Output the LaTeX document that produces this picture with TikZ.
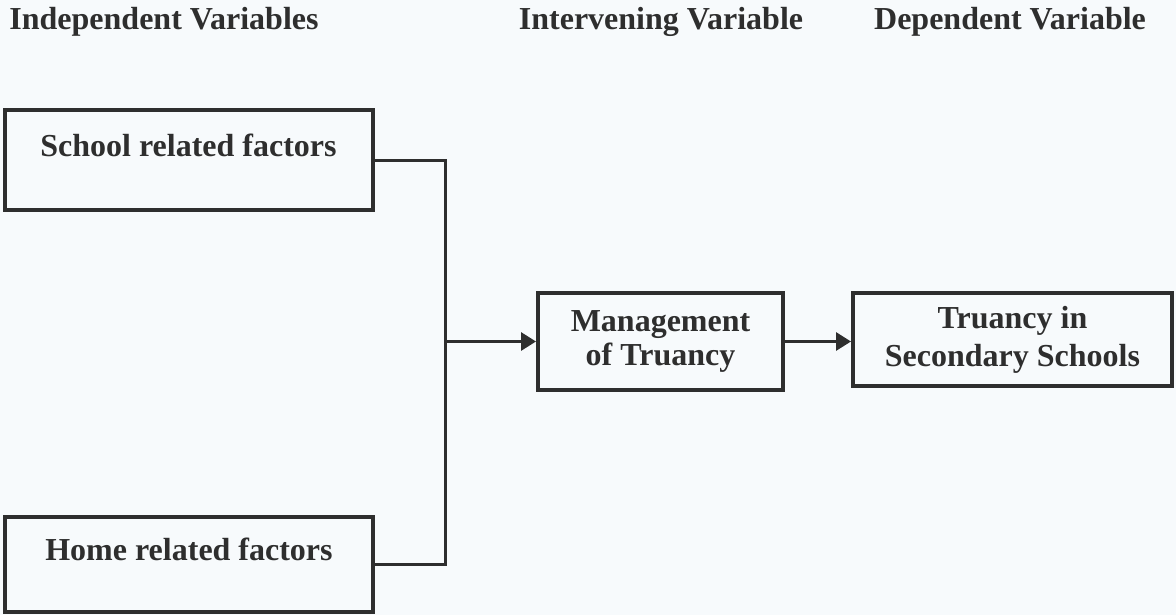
\documentclass[tikz,border=0pt]{standalone}
\usepackage{xcolor}
\usepackage{fontspec}
\setmainfont{Liberation Serif}
\usepackage{tikz}
\usetikzlibrary{arrows.meta}
\definecolor{ink}{HTML}{2E2E2E}
\definecolor{paper}{HTML}{F7FAFC}
\tikzstyle{factor} = [draw=ink,line width=2pt,text=ink,minimum width=184pt,text height=11pt,text depth=15pt]
\tikzstyle{block} = [draw=ink,line width=2pt,text=ink,align=center]
\tikzstyle{head} = [text=ink,anchor=base,inner sep=0pt]
\tikzstyle{conn} = [draw=ink,line width=1.5pt]
\tikzstyle{arrow} = [conn,-{Triangle[length=7.5pt,width=9pt]}]

\begin{document}
\begin{tikzpicture}[x=0.5pt,y=-0.5pt,font=\bfseries\fontsize{16}{17}\selectfont]
            \fill[paper] (0,0) rectangle (1176,615);
            \useasboundingbox (0,0) rectangle (1176,615);
            % headings
            \node[head] (indhead) at (164,30) {Independent Variables};
            \node[head] (inthead) at (661,30) {Intervening Variable};
            \node[head] (dephead) at (1010,30) {Dependent Variable};
            % boxes
            \node[factor,minimum height=50pt] (school) at (188.5,160) {School related factors};
            \node[factor,minimum height=47.5pt] (home) at (189,564.5) {Home related factors};
            \node[block,minimum width=122.5pt,minimum height=48.5pt] (manage) at (660.5,341.5) {Management\\of Truancy};
            \node[block,minimum width=159.5pt,minimum height=46.5pt] (truancy) at (1012.5,339.5) {Truancy in\\[2pt]Secondary Schools};
            % connectors
            \coordinate (join) at (445,341.5);
            \draw[conn] (school.east) -| (join) |- (home.east);
            \draw[arrow] (join) -- (manage.west);
            \draw[arrow] (manage.east) -- (manage.east -| truancy.west);
        \end{tikzpicture}
\end{document}
